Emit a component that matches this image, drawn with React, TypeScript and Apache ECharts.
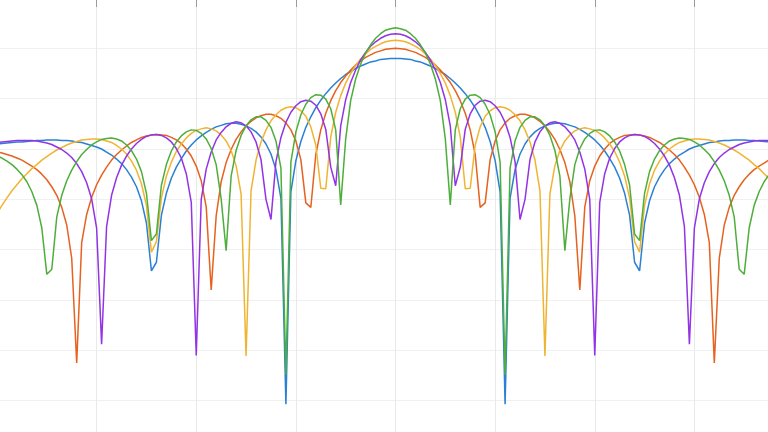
import React, { useEffect, useRef } from "react";
import * as echarts from "echarts";

// Angle in degrees; patterns are symmetric, values listed for 0..80 deg (1 deg step)
const maxAngle = 80;

// Pattern level (dB) for arrays of 4..8 elements, angle 0..80 deg
const n4 = [
  18.0, 18.0, 17.9, 17.8, 17.5, 17.3, 16.9, 16.5, 16.0, 15.4,
  14.8, 14.0, 13.1, 12.1, 11.0, 9.7, 8.2, 6.4, 4.3, 1.5,
  -2.3, -8.5, -50.7, -9.8, -4.1, -1.0, 1.0, 2.4, 3.4, 4.1,
  4.6, 4.9, 5.1, 5.1, 5.0, 4.7, 4.4, 3.9, 3.3, 2.6,
  1.8, 0.8, -0.4, -1.9, -3.6, -5.8, -8.8, -13.2, -22.5, -24.2,
  -14.7, -10.3, -7.5, -5.6, -4.1, -2.9, -2.0, -1.2, -0.6, 0.0,
  0.4, 0.7, 1.0, 1.3, 1.4, 1.6, 1.7, 1.7, 1.8, 1.8,
  1.8, 1.7, 1.7, 1.6, 1.5, 1.4, 1.4, 1.3, 1.2, 1.1,
  1.0,
];
const n5 = [
  20.0, 19.9, 19.8, 19.5, 19.2, 18.7, 18.2, 17.5, 16.7, 15.7,
  14.5, 13.2, 11.6, 9.6, 7.1, 3.8, -1.1, -11.6, -10.7, -2.1,
  1.6, 3.8, 5.2, 6.1, 6.6, 6.9, 6.9, 6.6, 6.2, 5.5,
  4.6, 3.4, 1.9, -0.1, -2.7, -6.5, -13.3, -28.0, -11.5, -6.3,
  -3.4, -1.4, 0.0, 1.1, 1.8, 2.3, 2.7, 2.8, 2.9, 2.8,
  2.6, 2.3, 1.8, 1.3, 0.6, -0.2, -1.1, -2.2, -3.6, -5.2,
  -7.1, -9.6, -13.0, -18.6, -42.5, -21.7, -15.1, -11.6, -9.2, -7.5,
  -6.1, -5.0, -4.1, -3.4, -2.8, -2.2, -1.8, -1.4, -1.1, -0.8,
  -0.5,
];
const n6 = [
  21.6, 21.5, 21.3, 20.9, 20.4, 19.8, 18.9, 17.9, 16.6, 15.0,
  13.1, 10.6, 7.3, 2.4, -7.9, -7.8, 0.8, 4.4, 6.5, 7.6,
  8.2, 8.4, 8.2, 7.7, 6.8, 5.6, 3.8, 1.4, -2.2, -8.3,
  -41.1, -8.9, -3.3, -0.3, 1.6, 2.8, 3.6, 4.0, 4.2, 4.0,
  3.7, 3.1, 2.2, 1.0, -0.5, -2.6, -5.4, -9.7, -18.4, -20.5,
  -11.2, -6.9, -4.2, -2.4, -1.0, 0.0, 0.7, 1.3, 1.6, 1.9,
  2.0, 2.0, 1.9, 1.8, 1.5, 1.2, 0.8, 0.3, -0.2, -0.8,
  -1.5, -2.2, -3.1, -3.9, -4.9, -5.9, -7.1, -8.3, -9.7, -11.2,
  -12.8,
];
const n7 = [
  22.9, 22.8, 22.5, 22.0, 21.3, 20.4, 19.2, 17.7, 15.7, 13.2,
  9.8, 4.6, -7.3, -3.6, 3.9, 7.0, 8.7, 9.5, 9.7, 9.4,
  8.6, 7.3, 5.3, 2.3, -2.5, -14.0, -10.0, -2.1, 1.4, 3.4,
  4.6, 5.2, 5.4, 5.1, 4.4, 3.3, 1.8, -0.6, -4.0, -10.0,
  -41.0, -10.6, -4.9, -1.8, 0.1, 1.4, 2.2, 2.7, 2.9, 2.8,
  2.5, 1.9, 1.1, 0.0, -1.4, -3.2, -5.7, -9.2, -15.4, -38.8,
  -15.7, -9.9, -6.7, -4.5, -2.9, -1.7, -0.8, -0.1, 0.4, 0.9,
  1.2, 1.4, 1.6, 1.7, 1.7, 1.7, 1.7, 1.6, 1.5, 1.4,
  1.3,
];
const n8 = [
  24.1, 23.9, 23.6, 22.9, 22.0, 20.7, 19.1, 16.9, 13.9, 9.6,
  2.0, -11.1, 3.8, 8.0, 9.9, 10.7, 10.8, 10.2, 8.9, 6.8,
  3.4, -2.6, -44.9, -3.8, 1.6, 4.3, 5.7, 6.4, 6.4, 5.8,
  4.6, 2.7, -0.3, -5.4, -20.2, -9.9, -3.1, 0.1, 2.0, 3.1,
  3.7, 3.8, 3.4, 2.6, 1.4, -0.4, -3.1, -7.2, -16.9, -18.2,
  -8.8, -4.5, -2.0, -0.3, 0.8, 1.6, 2.0, 2.2, 2.1, 1.9,
  1.4, 0.8, -0.1, -1.1, -2.5, -4.2, -6.3, -9.2, -13.5, -23.9,
  -24.9, -15.7, -11.2, -8.5, -6.5, -5.1, -4.0, -3.1, -2.4, -1.8,
  -1.3,
];

const seriesNames = ["N = 4", "N = 5", "N = 6", "N = 7", "N = 8"];
const seriesValues = [n4, n5, n6, n7, n8];
const seriesColors = ["#2b80d3", "#e5621f", "#f0b433", "#9333e6", "#4dae3b"];

function mirrored(half: number[]): [number, number][] {
  const out: [number, number][] = [];
  for (let a = -maxAngle; a <= maxAngle; a++) {
    out.push([a, half[Math.abs(a)]]);
  }
  return out;
}

export default function App() {
  const ref = useRef<HTMLDivElement>(null);
  useEffect(() => {
    if (!ref.current) return;
    const chart = echarts.init(ref.current, undefined, { renderer: "svg" });
    chart.setOption({
      animation: false,
      backgroundColor: "#ffffff",
      grid: { left: 0, top: 0, right: 0, bottom: 0, containLabel: false },
      xAxis: {
        type: "value",
        position: "top",
        min: -80,
        max: 80,
        interval: 20,
        axisLine: { show: false, onZero: false },
        axisTick: { show: true, inside: true, length: 9, lineStyle: { color: "#9a9a9a", width: 1 } },
        axisLabel: { show: false },
        splitLine: { show: true, lineStyle: { color: "#e9e9e9", width: 1 } },
      },
      yAxis: {
        type: "value",
        min: -60,
        max: 30,
        interval: 10,
        axisLine: { show: false },
        axisTick: { show: false },
        axisLabel: { show: false },
        splitLine: { show: true, lineStyle: { color: "#f0f0f0", width: 1 } },
      },
      series: seriesValues.map((vals, i) => ({
        name: seriesNames[i],
        type: "line",
        data: mirrored(vals),
        showSymbol: false,
        symbol: "none",
        smooth: false,
        lineStyle: { color: seriesColors[i], width: 1.5 },
        itemStyle: { color: seriesColors[i] },
      })),
    });
    return () => chart.dispose();
  }, []);
  return (
    <div
      style={{
        position: "fixed",
        left: 0,
        top: 0,
        width: 768,
        height: 432,
        overflow: "hidden",
        background: "#ffffff",
      }}
    >
      <div
        ref={ref}
        style={{ position: "absolute", left: -2.7, top: -1.9, width: 797.4, height: 452.7 }}
      />
    </div>
  );
}
